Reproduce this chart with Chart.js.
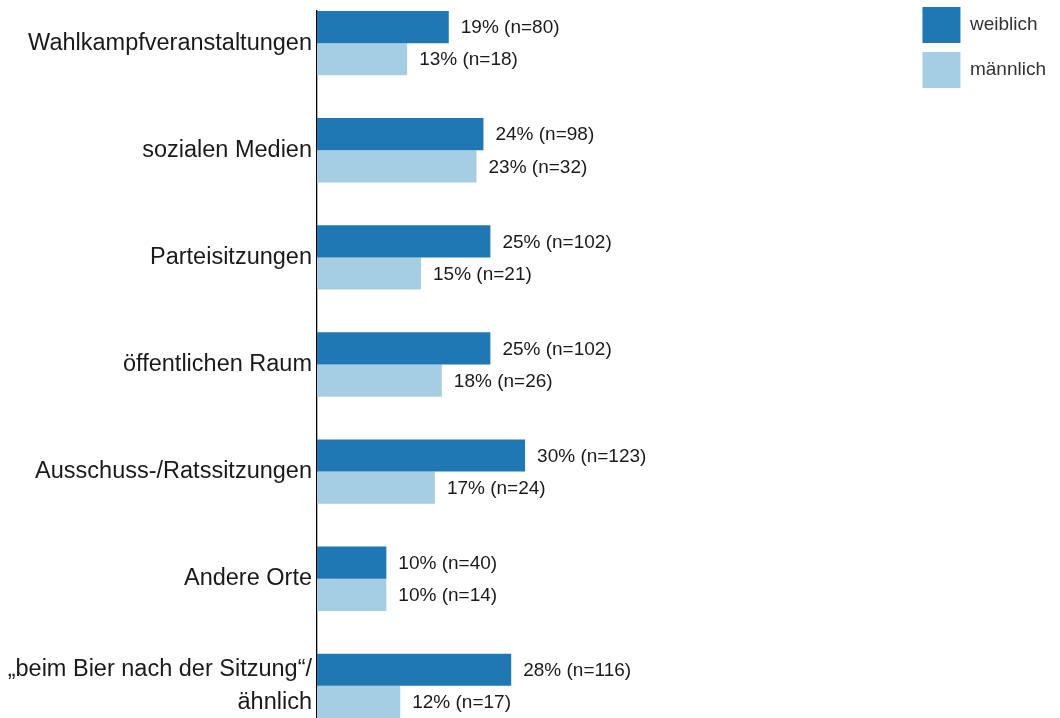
<!DOCTYPE html>
<html>
<head>
<meta charset="utf-8">
<script src="https://cdn.jsdelivr.net/npm/chart.js@4.4.1/dist/chart.umd.min.js"></script>
<style>
  html, body { margin: 0; padding: 0; background: #ffffff; }
  #wrap { width: 1060px; height: 718px; }
</style>
</head>
<body>
<div id="wrap"><canvas id="c" width="1060" height="718"></canvas></div>
<script>
// ---- data ----
const categories = [
  'Wahlkampfveranstaltungen',
  'sozialen Medien',
  'Parteisitzungen',
  'öffentlichen Raum',
  'Ausschuss-/Ratssitzungen',
  'Andere Orte',
  ['„beim Bier nach der Sitzung“/', 'ähnlich']
];
const seriesNames = ['weiblich', 'männlich'];
const weiblichPct = [19, 24, 25, 25, 30, 10, 28];
const weiblichN   = [80, 98, 102, 102, 123, 40, 116];
const maennlichPct = [13, 23, 15, 18, 17, 10, 12];
const maennlichN   = [18, 32, 21, 26, 24, 14, 17];

const FONT = '"Liberation Sans", Arial, Helvetica, sans-serif';

const toPoints = (vals) => vals.map((v, i) => ({ x: v, y: i }));

const valueLabels = {
  id: 'valueLabels',
  afterDatasetsDraw(chart) {
    const ctx = chart.ctx;
    const counts = [weiblichN, maennlichN];
    const pcts = [weiblichPct, maennlichPct];
    ctx.save();
    ctx.font = '19px ' + FONT;
    ctx.fillStyle = '#1a1a1a';
    ctx.textAlign = 'left';
    ctx.textBaseline = 'middle';
    chart.data.datasets.forEach((ds, di) => {
      const meta = chart.getDatasetMeta(di);
      meta.data.forEach((bar, i) => {
        ctx.fillText(pcts[di][i] + '% (n=' + counts[di][i] + ')', bar.x + 12, bar.y + 1);
      });
    });
    ctx.restore();
  }
};

const legendNudge = {
  id: 'legendNudge',
  afterLayout(chart) {
    const l = chart.legend;
    if (l) { l.top -= 13; l.bottom -= 13; }
  }
};

new Chart(document.getElementById('c'), {
  type: 'bar',
  data: {
    datasets: [
      { label: seriesNames[0], data: toPoints(weiblichPct), backgroundColor: '#1f78b4', borderWidth: 0 },
      { label: seriesNames[1], data: toPoints(maennlichPct), backgroundColor: '#a6cee3', borderWidth: 0 }
    ]
  },
  options: {
    indexAxis: 'y',
    responsive: false,
    animation: false,
    devicePixelRatio: 1,
    categoryPercentage: 0.6,
    barPercentage: 1.0,
    layout: { padding: { top: 11, bottom: 0, left: 0, right: 4 } },
    plugins: {
      tooltip: { enabled: false },
      legend: {
        position: 'right',
        align: 'start',
        labels: {
          boxWidth: 38,
          boxHeight: 36,
          padding: 9,
          color: '#333333',
          font: { family: FONT, size: 19 }
        }
      }
    },
    scales: {
      x: {
        type: 'linear',
        display: false,
        min: 0,
        max: 86
      },
      y: {
        type: 'linear',
        reverse: true,
        offset: false,
        min: -0.3,
        max: 6.3,
        afterBuildTicks(s) { s.ticks = categories.map((c, i) => ({ value: i })); },
        afterFit(s) { s.width = 317; s.paddingTop = 0; s.paddingBottom = 0; },
        grid: { display: false, drawTicks: false, offset: false },
        border: { display: true, color: '#000000', width: 1.3 },
        ticks: {
          autoSkip: false,
          padding: 5,
          color: '#1a1a1a',
          font: { family: FONT, size: 23.5, lineHeight: 1.42 },
          callback(v) { return categories[v]; }
        }
      }
    }
  },
  plugins: [valueLabels, legendNudge]
});
</script>
</body>
</html>
